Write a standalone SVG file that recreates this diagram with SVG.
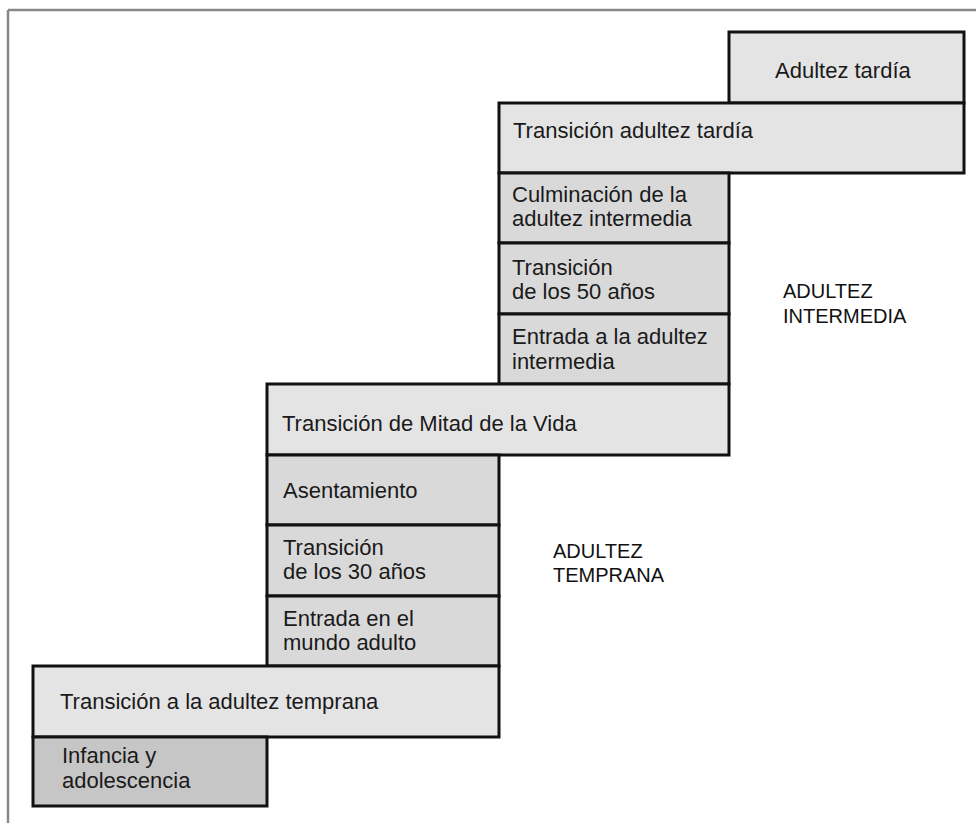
<svg xmlns="http://www.w3.org/2000/svg" width="976" height="823" viewBox="0 0 976 823">
  <style>
    .box { stroke: #111; stroke-width: 3; }
    .light { fill: #e4e4e4; }
    .mid { fill: #d9d9d9; }
    .dark { fill: #c6c6c6; }
    .lbl { font-family: "Liberation Sans", Arial, sans-serif; font-size: 22px; fill: #1a1a1a; }
    .era { font-family: "Liberation Sans", Arial, sans-serif; font-size: 20px; fill: #111; }
  </style>
  <rect x="0" y="0" width="976" height="823" fill="#ffffff"/>
  <g id="frame" stroke="#888" stroke-width="2.5" fill="none">
    <line x1="8" y1="10" x2="976" y2="10"/>
    <line x1="8" y1="10" x2="8" y2="823"/>
  </g>

  <g id="adultez-tardia">
    <rect class="box light" x="729" y="32" width="235" height="71"/>
    <text class="lbl" x="775" y="78">Adultez tardía</text>
  </g>
  <g id="transicion-adultez-tardia">
    <rect class="box light" x="499" y="103" width="465" height="70"/>
    <text class="lbl" x="513" y="138">Transición adultez tardía</text>
  </g>
  <g id="culminacion">
    <rect class="box mid" x="499" y="173" width="230" height="70"/>
    <text class="lbl" x="512" y="202">Culminación de la</text>
    <text class="lbl" x="512" y="226">adultez intermedia</text>
  </g>
  <g id="transicion-50">
    <rect class="box mid" x="499" y="243" width="230" height="71"/>
    <text class="lbl" x="512" y="275">Transición</text>
    <text class="lbl" x="512" y="299">de los 50 años</text>
  </g>
  <g id="entrada-intermedia">
    <rect class="box mid" x="499" y="314" width="230" height="70"/>
    <text class="lbl" x="512" y="344">Entrada a la adultez</text>
    <text class="lbl" x="512" y="369">intermedia</text>
  </g>
  <g id="transicion-mitad">
    <rect class="box light" x="267" y="384" width="462" height="71"/>
    <text class="lbl" x="282" y="431">Transición de Mitad de la Vida</text>
  </g>
  <g id="asentamiento">
    <rect class="box mid" x="267" y="455" width="232" height="70"/>
    <text class="lbl" x="283" y="498">Asentamiento</text>
  </g>
  <g id="transicion-30">
    <rect class="box mid" x="267" y="525" width="232" height="71"/>
    <text class="lbl" x="283" y="555">Transición</text>
    <text class="lbl" x="283" y="579">de los 30 años</text>
  </g>
  <g id="entrada-mundo">
    <rect class="box mid" x="267" y="596" width="232" height="70"/>
    <text class="lbl" x="283" y="626">Entrada en el</text>
    <text class="lbl" x="283" y="650">mundo adulto</text>
  </g>
  <g id="transicion-temprana">
    <rect class="box light" x="33" y="666" width="466" height="71"/>
    <text class="lbl" x="60" y="709">Transición a la adultez temprana</text>
  </g>
  <g id="infancia">
    <rect class="box dark" x="33" y="737" width="234" height="69"/>
    <text class="lbl" x="62" y="763">Infancia y</text>
    <text class="lbl" x="62" y="788">adolescencia</text>
  </g>

  <g id="adultez-intermedia-label">
    <text class="era" x="783" y="298">ADULTEZ</text>
    <text class="era" x="783" y="323">INTERMEDIA</text>
  </g>
  <g id="adultez-temprana-label">
    <text class="era" x="553" y="558">ADULTEZ</text>
    <text class="era" x="553" y="582">TEMPRANA</text>
  </g>
</svg>
